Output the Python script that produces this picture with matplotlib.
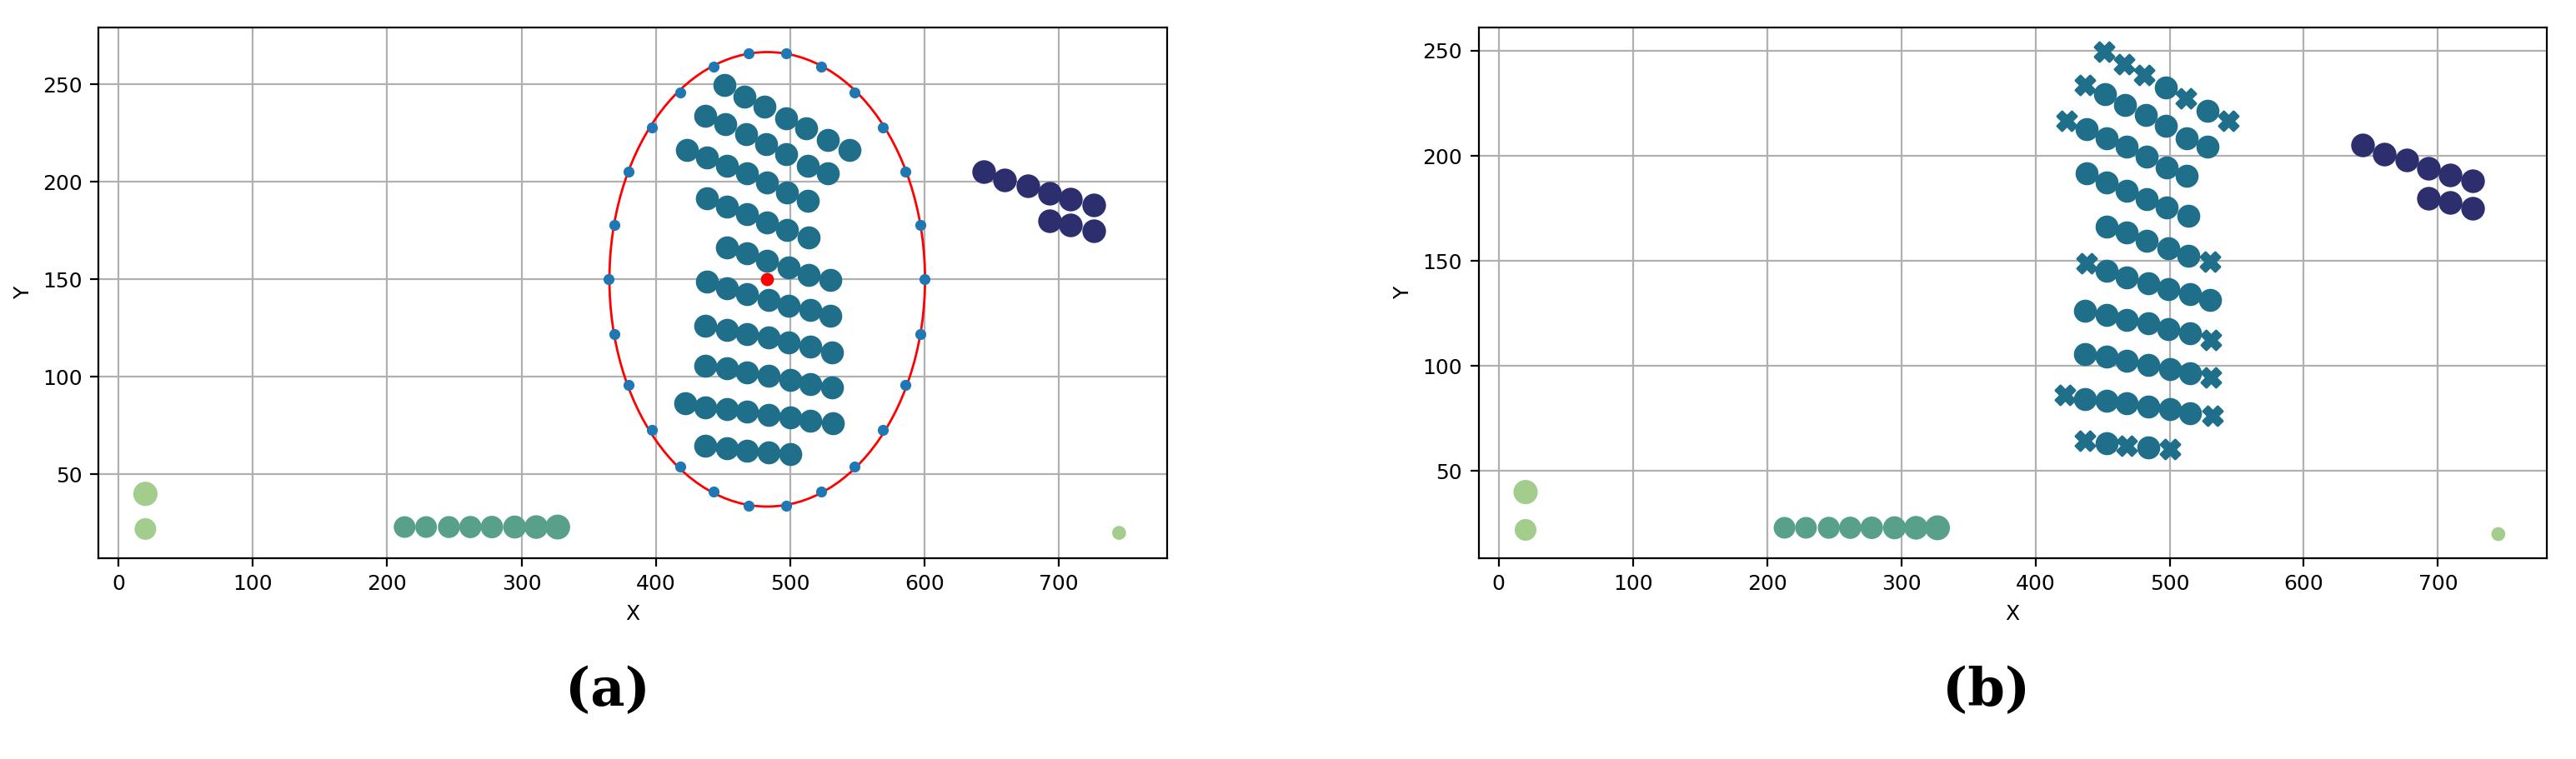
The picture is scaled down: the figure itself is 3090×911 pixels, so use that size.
import matplotlib
matplotlib.use("Agg")
import matplotlib.pyplot as plt
from matplotlib.patches import Ellipse

TEAL = "#1f6e8a"
NAVY = "#2c2e6e"
GREEN = "#58a08a"
LIGHT = "#a3cd8c"

# main cluster rows (x, y), marker per point for panel (b): o = circle, x = cross
rows_x = [
    [451, 466, 481, 497, 512, 528, 544],
    [437, 452, 467, 482, 497, 513, 528],
    [423, 438, 453, 468, 483, 498, 513],
    [438, 453, 468, 483, 498, 514],
    [453, 468, 483, 499, 514, 530],
    [438, 453, 468, 484, 499, 515, 530],
    [437, 453, 468, 484, 499, 515, 531],
    [437, 453, 468, 484, 500, 515, 531],
    [422, 437, 453, 468, 484, 500, 515, 532],
    [437, 453, 468, 484, 500],
]
rows_y = [
    [249.7, 243.8, 238.4, 232.5, 227.4, 221.5, 216.5],
    [233.7, 229.5, 224.4, 219.4, 214.3, 208.4, 204.5],
    [216.5, 212.6, 208.4, 204.2, 199.5, 194.6, 190.4],
    [191.6, 187.4, 183.5, 179.3, 175.3, 171.4],
    [166.3, 163.5, 159.6, 156.2, 152.4, 149.5],
    [148.7, 145.3, 142.3, 139.4, 136.5, 134.3, 131.5],
    [126.4, 124.2, 122.0, 120.4, 117.5, 115.5, 112.5],
    [105.7, 104.4, 102.4, 100.7, 98.5, 96.5, 94.4],
    [86.4, 84.3, 83.3, 82.2, 80.5, 79.3, 77.6, 76.3],
    [64.5, 63.2, 62.0, 61.1, 60.3],
]
rows_mk = [
    "xxxoxox",
    "xoooooo",
    "xoooooo",
    "oooooo",
    "ooooox",
    "xoooooo",
    "oooooox",
    "oooooox",
    "xoooooox",
    "xoxox",
]

navy_x = [644, 660, 677, 693, 709, 726, 693, 709, 726]
navy_y = [205, 201, 198, 194, 191, 188, 180, 178, 175]

green_x = [213, 229, 246, 262, 278, 295, 311, 327]
green_y = [23, 23, 23, 23, 23, 23, 23, 23]
green_s = [70, 70, 72, 74, 76, 80, 85, 95]

light_x = [20, 20, 745]
light_y = [40, 22, 20]
light_s = [90, 70, 25]

# ellipse fitted around the cluster (panel a)
ell_cx, ell_cy = 483, 150
ell_w, ell_h = 235, 233
ring_x = [600, 597, 586, 569, 548, 523, 497, 469, 443, 418, 397, 380, 369, 365,
          369, 380, 397, 418, 443, 469, 497, 523, 548, 569, 586, 597]
ring_y = [150, 178, 205, 228, 246, 259, 266, 266, 259, 246, 228, 205, 178, 150,
          122, 96, 73, 54, 41, 34, 34, 41, 54, 73, 96, 122]


def draw_common(ax, ylim):
    ax.scatter(light_x, light_y, s=light_s, color=LIGHT, zorder=3)
    ax.scatter(green_x, green_y, s=green_s, color=GREEN, zorder=3)
    ax.scatter(navy_x, navy_y, s=85, color=NAVY, zorder=3)
    ax.set_xlim(-15, 781)
    ax.set_ylim(*ylim)
    ax.set_xticks([0, 100, 200, 300, 400, 500, 600, 700])
    ax.set_yticks([50, 100, 150, 200, 250])
    ax.tick_params(labelsize=9)
    ax.grid(True, color="#b0b0b0", linewidth=0.8)
    ax.set_axisbelow(True)
    ax.set_xlabel("X", fontsize=9)
    ax.set_ylabel("Y", fontsize=9)


fig = plt.figure(figsize=(15.45, 4.555), dpi=200)
ax1 = fig.add_axes([0.0382, 0.2645, 0.415, 0.699])
ax2 = fig.add_axes([0.574, 0.2645, 0.4146, 0.699])

draw_common(ax1, (7, 279))
for xs, ys in zip(rows_x, rows_y):
    ax1.scatter(xs, ys, s=80, color=TEAL, zorder=3)
ax1.add_patch(Ellipse((ell_cx, ell_cy), ell_w, ell_h, fill=False,
                      edgecolor="red", linewidth=1.0, zorder=4))
ax1.scatter(ring_x, ring_y, s=14, color="#1f77b4", zorder=5)
ax1.scatter([ell_cx], [ell_cy], s=22, color="red", zorder=5)

draw_common(ax2, (8.5, 261))
for xs, ys, mk in zip(rows_x, rows_y, rows_mk):
    for x, y, m in zip(xs, ys, mk):
        if m == "o":
            ax2.scatter(x, y, s=80, color=TEAL, zorder=3)
        else:
            ax2.scatter(x, y, s=70, color=TEAL, marker="X", zorder=3)

fig.text(0.236, 0.07, "(a)", ha="center", fontsize=23, fontweight="bold",
         family="DejaVu Serif")
fig.text(0.771, 0.07, "(b)", ha="center", fontsize=23, fontweight="bold",
         family="DejaVu Serif")

fig.savefig("out.png", dpi=200)
